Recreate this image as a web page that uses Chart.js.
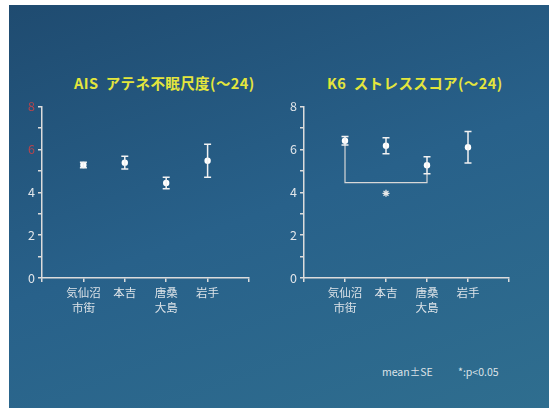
<!DOCTYPE html>
<html>
<head>
<meta charset="utf-8">
<script src="https://cdn.jsdelivr.net/npm/chart.js@4"></script>
<style>
  html, body { margin: 0; padding: 0; background: #fff; width: 549px; height: 408px; overflow: hidden; }
  #slide {
    position: absolute; left: 9px; top: 5px; width: 540px; height: 403px;
    background: linear-gradient(160deg, #1f4b70 0%, #28618a 50%, #2f6e8f 100%);
  }
  .title {
    position: absolute; top: 72px; font: bold 14.5px "Noto Sans CJK JP", sans-serif;
    color: #e4e63c; white-space: nowrap; letter-spacing: 0.4px;
  }
  .note {
    position: absolute; top: 364px; font: 10.5px "Noto Sans CJK JP", sans-serif; color: #dde3e8;
  }
  canvas { position: absolute; }
</style>
</head>
<body>
<div id="slide"></div>
<div class="title" style="left:74px">AIS&nbsp; アテネ不眠尺度(～24)</div>
<div class="title" style="left:327px">K6&nbsp; ストレススコア(～24)</div>
<div class="note" style="left:382px">mean±SE</div>
<div class="note" style="left:458px">*:p&lt;0.05</div>
<div style="position:absolute;left:12px;top:96px;width:245px;height:222px"><canvas id="aisChart"></canvas></div>
<div style="position:absolute;left:274px;top:96px;width:243px;height:222px"><canvas id="k6Chart"></canvas></div>
<script>
const categories = [["気仙沼", "市街"], "本吉", ["唐桑", "大島"], "岩手"];

const aisMean = [5.27, 5.38, 4.43, 5.47];
const aisSE = [0.13, 0.3, 0.27, 0.77];

const k6Mean = [6.4, 6.17, 5.26, 6.1];
const k6SE = [0.2, 0.37, 0.4, 0.73];

// significance bracket between 気仙沼市街 and 唐桑大島
const bracketFrom = 1, bracketTo = 3, bracketLevel = 4.45;
const starPos = { x: 2, y: 3.95 };

const yTicks = [0, 2, 4, 6, 8];
const aisTickColors = { 8: "#b8444c", 6: "#b8444c" };

const axisColor = "#dcdcdc";
const font = "'Noto Sans CJK JP', sans-serif";

function errorBarSets(means, ses) {
  return means.map((m, i) => ({
    data: [{ x: i + 1, y: m - ses[i] }, { x: i + 1, y: m + ses[i] }],
    showLine: true,
    borderColor: "#f2f2f2",
    borderWidth: 1.5,
    pointStyle: "line",
    pointRadius: 3.5,
    pointBorderWidth: 1.5,
    pointBorderColor: "#f2f2f2"
  }));
}

function meanSet(means) {
  return {
    data: means.map((m, i) => ({ x: i + 1, y: m })),
    pointStyle: "circle",
    pointRadius: 3.2,
    pointBackgroundColor: "#ffffff",
    pointBorderColor: "#ffffff",
    borderWidth: 0
  };
}

function makeChart(id, means, ses, tickColors, extra) {
  const ctx = document.getElementById(id).getContext("2d");
  return new Chart(ctx, {
    type: "scatter",
    data: { datasets: [...errorBarSets(means, ses), meanSet(means), ...extra] },
    options: {
      responsive: true,
      maintainAspectRatio: false,
      animation: false,
      layout: { padding: { top: 8, right: 8, left: 0, bottom: 0 } },
      plugins: { legend: { display: false }, tooltip: { enabled: false } },
      scales: {
        x: {
          type: "linear", min: 0, max: 5,
          afterFit: s => { s.height = 40; },
          afterBuildTicks: s => { s.ticks = [0, 1, 2, 3, 4, 5].map(v => ({ value: v })); },
          ticks: {
            autoSkip: false, maxRotation: 0, padding: 3, color: "#dde3e8",
            font: { family: font, size: 11.5, lineHeight: 1.3 },
            callback: v => categories[v - 1] || ""
          },
          grid: { drawOnChartArea: false, tickLength: 4, color: axisColor, lineWidth: 1.5 },
          border: { color: axisColor, width: 1.5 }
        },
        y: {
          min: 0, max: 8,
          afterFit: s => { s.width = 30; },
          afterBuildTicks: s => { s.ticks = [0, 1, 2, 3, 4, 5, 6, 7, 8].map(v => ({ value: v })); },
          ticks: {
            padding: 3,
            font: { family: font, size: 12.5 },
            color: c => tickColors[c.tick.value] || "#e2e6ea",
            callback: v => yTicks.includes(v) ? String(v) : ""
          },
          grid: { drawOnChartArea: false, tickLength: 4, color: axisColor, lineWidth: 1.5 },
          border: { color: axisColor, width: 1.5 }
        }
      }
    }
  });
}

makeChart("aisChart", aisMean, aisSE, aisTickColors, []);

makeChart("k6Chart", k6Mean, k6SE, {}, [
  {
    data: [
      { x: bracketFrom, y: k6Mean[bracketFrom - 1] - k6SE[bracketFrom - 1] },
      { x: bracketFrom, y: bracketLevel },
      { x: bracketTo, y: bracketLevel },
      { x: bracketTo, y: k6Mean[bracketTo - 1] - k6SE[bracketTo - 1] }
    ],
    showLine: true,
    borderColor: "#d8d8d8",
    borderWidth: 1.2,
    pointRadius: 0
  },
  {
    data: [starPos],
    pointStyle: "star",
    pointRadius: 3.5,
    pointBorderColor: "#e8e8e8",
    pointBorderWidth: 1.3
  }
]);
</script>
</body>
</html>
